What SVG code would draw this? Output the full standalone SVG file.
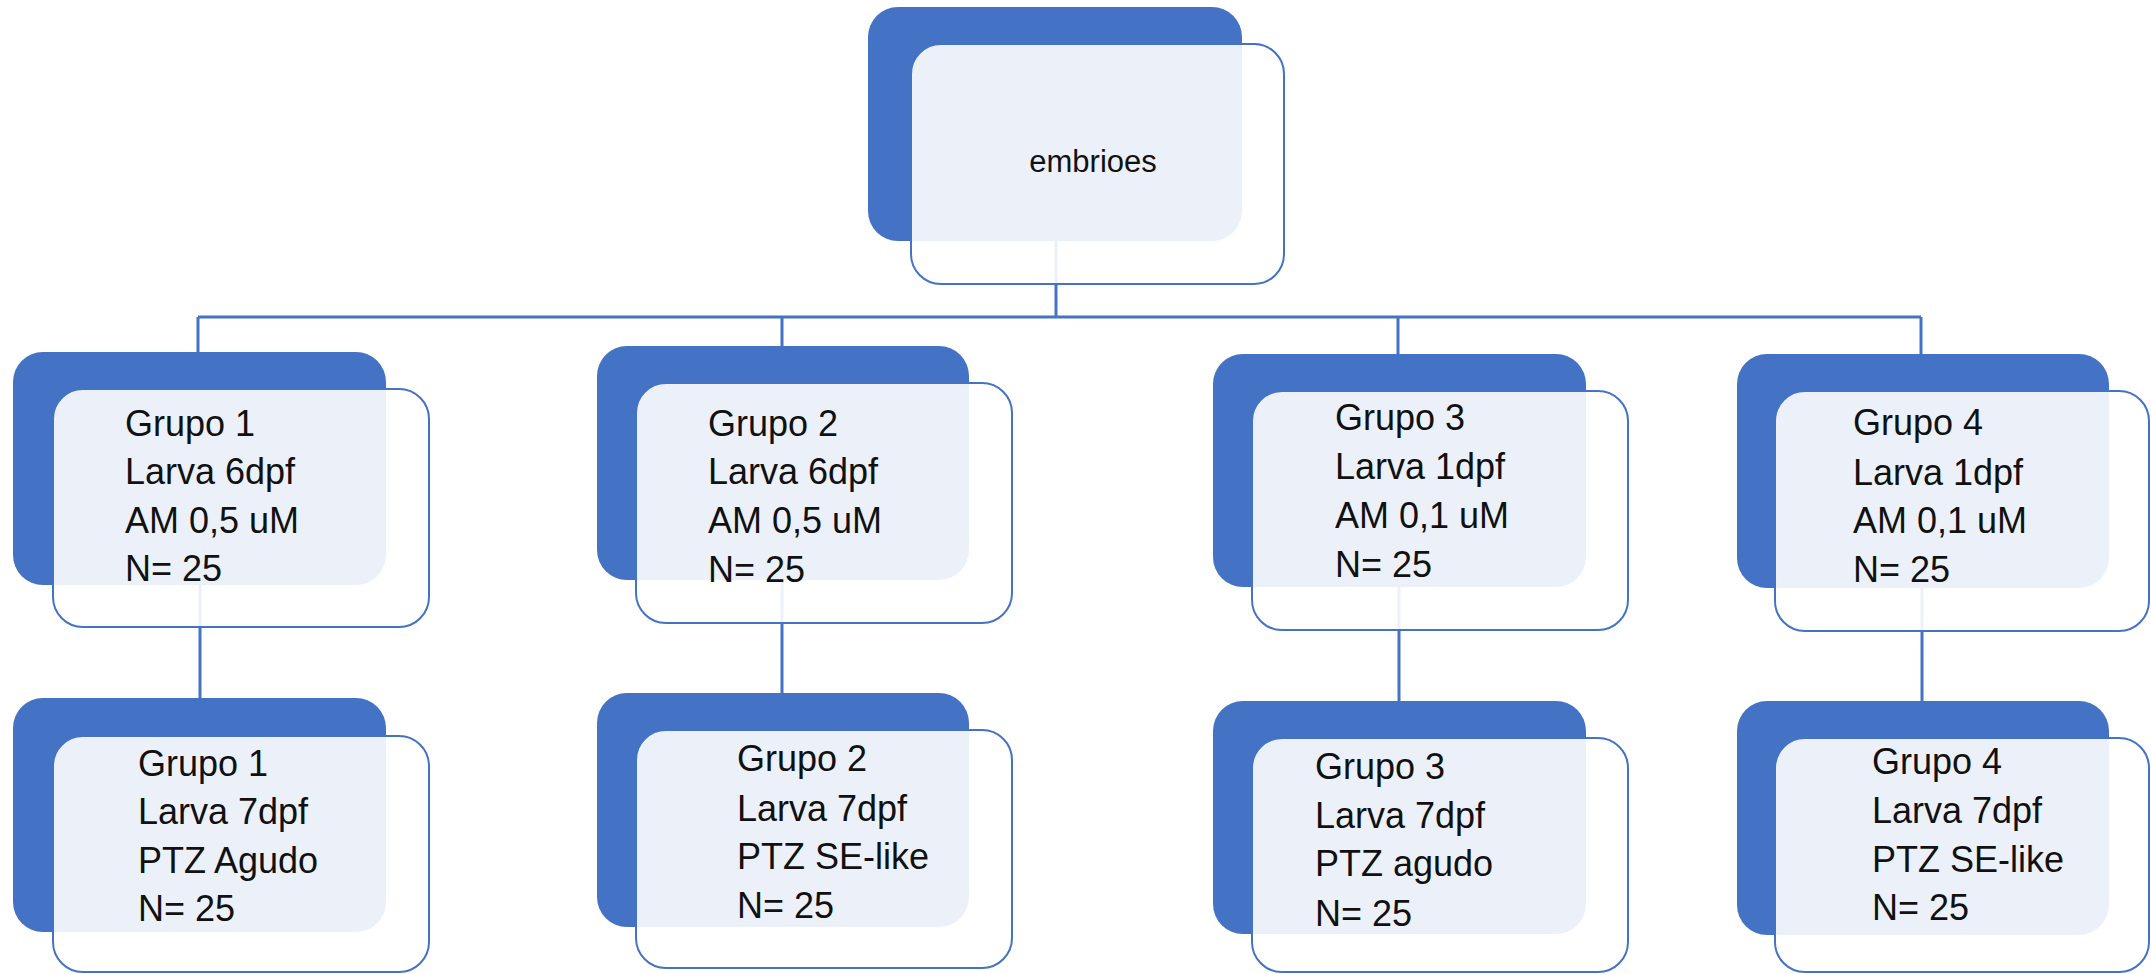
<svg xmlns="http://www.w3.org/2000/svg" width="2151" height="974" viewBox="0 0 2151 974">
  <style>
    .back { fill: #4472C4; }
    .front { fill: #FFFFFF; fill-opacity: 0.9; stroke: #4472C4; stroke-width: 2; }
    .lbl { font-family: "Liberation Sans", Arial, sans-serif; font-size: 36px; fill: #111111; }
    .root { font-family: "Liberation Sans", Arial, sans-serif; font-size: 31px; fill: #111111; }
    .link { fill: none; stroke: #4472C4; stroke-width: 3; }
  </style>
  <rect width="2151" height="974" fill="#FFFFFF"/>

  <!-- tree connectors, drawn beneath the nodes -->
  <g id="connectors">
    <path class="link" d="M1056 200 V317 M198 317 H1921 M198 317 V370 M782 317 V370 M1398 317 V370 M1921 317 V370"/>
    <path class="link" d="M200 500 V712 M782 500 V706 M1399 500 V714 M1922 500 V714"/>
  </g>

  <g id="embrioes">
    <rect class="back" x="868" y="7" width="374" height="234" rx="30"/>
    <rect class="front" x="911" y="44" width="373" height="240" rx="30"/>
    <text class="root" x="1093" y="172" text-anchor="middle">embrioes</text>
  </g>

  <g id="grupo1-6dpf">
    <rect class="back" x="13" y="352" width="373" height="233" rx="30"/>
    <rect class="front" x="53" y="389" width="376" height="238" rx="30"/>
    <text class="lbl"><tspan x="125" y="436">Grupo 1</tspan><tspan x="125" y="484">Larva 6dpf</tspan><tspan x="125" y="533">AM 0,5 uM</tspan><tspan x="125" y="581">N= 25</tspan></text>
  </g>

  <g id="grupo2-6dpf">
    <rect class="back" x="597" y="346" width="372" height="234" rx="30"/>
    <rect class="front" x="636" y="383" width="376" height="240" rx="30"/>
    <text class="lbl"><tspan x="708" y="436">Grupo 2</tspan><tspan x="708" y="484">Larva 6dpf</tspan><tspan x="708" y="533">AM 0,5 uM</tspan><tspan x="708" y="582">N= 25</tspan></text>
  </g>

  <g id="grupo3-1dpf">
    <rect class="back" x="1213" y="354" width="373" height="233" rx="30"/>
    <rect class="front" x="1252" y="391" width="376" height="239" rx="30"/>
    <text class="lbl"><tspan x="1335" y="430">Grupo 3</tspan><tspan x="1335" y="479">Larva 1dpf</tspan><tspan x="1335" y="528">AM 0,1 uM</tspan><tspan x="1335" y="577">N= 25</tspan></text>
  </g>

  <g id="grupo4-1dpf">
    <rect class="back" x="1737" y="354" width="372" height="234" rx="30"/>
    <rect class="front" x="1775" y="391" width="374" height="240" rx="30"/>
    <text class="lbl"><tspan x="1853" y="435">Grupo 4</tspan><tspan x="1853" y="485">Larva 1dpf</tspan><tspan x="1853" y="533">AM 0,1 uM</tspan><tspan x="1853" y="582">N= 25</tspan></text>
  </g>

  <g id="grupo1-7dpf">
    <rect class="back" x="13" y="698" width="373" height="234" rx="30"/>
    <rect class="front" x="53" y="736" width="376" height="236" rx="30"/>
    <text class="lbl"><tspan x="138" y="776">Grupo 1</tspan><tspan x="138" y="824">Larva 7dpf</tspan><tspan x="138" y="873">PTZ Agudo</tspan><tspan x="138" y="921">N= 25</tspan></text>
  </g>

  <g id="grupo2-7dpf">
    <rect class="back" x="597" y="693" width="372" height="234" rx="30"/>
    <rect class="front" x="636" y="730" width="376" height="238" rx="30"/>
    <text class="lbl"><tspan x="737" y="771">Grupo 2</tspan><tspan x="737" y="821">Larva 7dpf</tspan><tspan x="737" y="869">PTZ SE-like</tspan><tspan x="737" y="918">N= 25</tspan></text>
  </g>

  <g id="grupo3-7dpf">
    <rect class="back" x="1213" y="701" width="373" height="233" rx="30"/>
    <rect class="front" x="1252" y="738" width="376" height="234" rx="30"/>
    <text class="lbl"><tspan x="1315" y="779">Grupo 3</tspan><tspan x="1315" y="828">Larva 7dpf</tspan><tspan x="1315" y="876">PTZ agudo</tspan><tspan x="1315" y="926">N= 25</tspan></text>
  </g>

  <g id="grupo4-7dpf">
    <rect class="back" x="1737" y="701" width="372" height="234" rx="30"/>
    <rect class="front" x="1775" y="738" width="374" height="234" rx="30"/>
    <text class="lbl"><tspan x="1872" y="774">Grupo 4</tspan><tspan x="1872" y="823">Larva 7dpf</tspan><tspan x="1872" y="872">PTZ SE-like</tspan><tspan x="1872" y="920">N= 25</tspan></text>
  </g>
</svg>
